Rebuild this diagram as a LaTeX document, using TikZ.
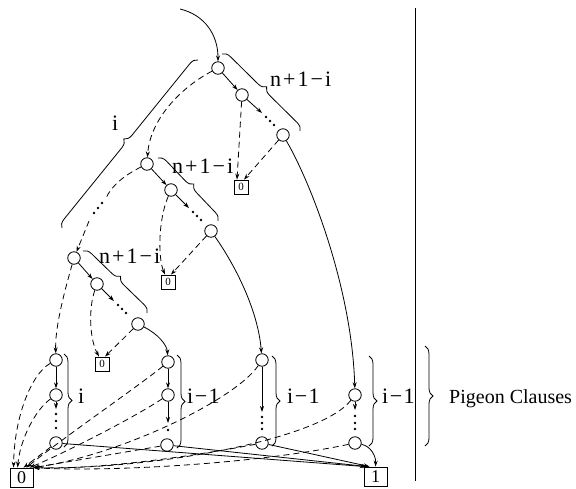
\documentclass[tikz,border=0pt]{standalone}
\usepackage{fontspec}
\setmainfont{Liberation Serif}
\usetikzlibrary{arrows.meta,decorations.pathreplacing}
\newcommand{\nlab}{n\kern2pt+\kern2pt1\kern2pt−\kern2pt i}
\newcommand{\ilab}{i\kern1.5pt−\kern1.5pt1}
\begin{document}
\begin{tikzpicture}[x=1pt,y=-1pt,
  vtx/.style={circle,draw,minimum size=12.5pt,inner sep=0pt,line width=0.8pt},
  sbox/.style={draw,minimum width=14pt,minimum height=14pt,inner sep=0pt,line width=0.8pt,font=\fontsize{11}{11}\selectfont},
  bbox/.style={draw,minimum width=23pt,minimum height=19pt,inner sep=0pt,line width=0.8pt,font=\fontsize{18}{18}\selectfont},
  sol/.style={line width=0.8pt,-{Stealth[length=6pt,width=4pt]}},
  solp/.style={line width=0.8pt},
  das/.style={line width=0.8pt,dash pattern=on 6pt off 4pt,-{Stealth[length=6pt,width=4pt]}},
  dasp/.style={line width=0.8pt,dash pattern=on 6pt off 4pt},
  brc/.style={decorate,decoration={brace,amplitude=8pt},line width=0.8pt},
  lbl/.style={anchor=base west,inner sep=0pt,font=\fontsize{22}{22}\selectfont},
  dt/.style={circle,fill,inner sep=0pt,minimum size=2.8pt},
]
\useasboundingbox (0,0) rectangle (576,488);

% level 1
\coordinate (start) at (180,9);
\node[vtx] (a1) at (218,68) {};
\node[vtx] (a2) at (242,95) {};
\node[vtx] (a3) at (283,135) {};
\coordinate (a2e) at (262,113);
\node[dt] (ad1) at (266,117) {};
\node[dt] (ad2) at (270,121) {};
\node[dt] (ad3) at (274,125) {};
\node[sbox] (z1) at (241,187) {0};

% level 2
\node[vtx] (b1) at (147,164) {};
\node[vtx] (b2) at (171,190) {};
\node[vtx] (b3) at (211,231) {};
\coordinate (b2e) at (189,208);
\node[dt] (bd1) at (193,212) {};
\node[dt] (bd2) at (197,216) {};
\node[dt] (bd3) at (201,220) {};
\node[sbox] (z2) at (168,282) {0};
\coordinate (bl1) at (106,198);
\node[dt] (bld1) at (102,203) {};
\node[dt] (bld2) at (98,208) {};
\node[dt] (bld3) at (94,213) {};
\coordinate (bl2) at (89,221);

% level 3
\node[vtx] (c1) at (74,258) {};
\node[vtx] (c2) at (97,284) {};
\node[vtx] (c3) at (138,324) {};
\coordinate (c2e) at (114,301);
\node[dt] (cd1) at (118,305) {};
\node[dt] (cd2) at (122,309) {};
\node[dt] (cd3) at (126,313) {};
\node[sbox] (z3) at (102,364) {0};

% columns
\node[vtx] (p1a) at (56,360) {};
\node[vtx] (p1b) at (56,395) {};
\coordinate (p1e) at (56,409);
\node[dt] (p1d1) at (56,414) {};
\node[dt] (p1d2) at (56,421) {};
\node[dt] (p1d3) at (56,428) {};
\node[vtx] (p1c) at (56,443) {};

\node[vtx] (p2a) at (168,362) {};
\node[vtx] (p2b) at (168,395) {};
\coordinate (p2e) at (168,423);
\node[dt] (p2d1) at (168,430) {};
\node[vtx] (p2c) at (167,445) {};

\node[vtx] (p3a) at (262,360) {};
\coordinate (p3e) at (262,412);
\node[dt] (p3d1) at (262,417) {};
\node[dt] (p3d2) at (262,423) {};
\node[dt] (p3d3) at (262,429) {};
\node[vtx] (p3c) at (262,443) {};

\node[vtx] (p4a) at (355,395) {};
\coordinate (p4e) at (355,410);
\node[dt] (p4d1) at (355,416) {};
\node[dt] (p4d2) at (355,423) {};
\node[dt] (p4d3) at (355,429) {};
\node[vtx] (p4c) at (355,443) {};

\node[bbox] (box0) at (21.5,477.5) {0};
\node[bbox] (box1) at (375.5,476.5) {1};

% braces and labels
\draw[brc] (62,228) -- (198,60);
\node[lbl] (li) at (112,130) {i};
\draw[brc] (222,54) -- (300,131);
\node[lbl] (l1) at (270,86) {\nlab};
\draw[brc] (158,158) -- (218,221);
\node[lbl] (l2) at (172,173) {\nlab};
\draw[brc] (83,251) -- (147,313);
\node[lbl] (l3) at (99,263) {\nlab};

\draw[brc] (64,354) -- (64,447);
\node[lbl] (lc1) at (78,403) {i};
\draw[brc] (177,355) -- (177,448);
\node[lbl] (lc2) at (187,403) {\ilab};
\draw[brc] (272,356) -- (272,446);
\node[lbl] (lc3) at (287,403) {\ilab};
\draw[brc] (369,356) -- (369,446);
\node[lbl] (lc4) at (382,403) {\ilab};
\draw[brc] (425,346) -- (425,446);
\node[lbl,font=\fontsize{20}{20}\selectfont] (lp) at (449,403) {Pigeon Clauses};

\coordinate (vtop) at (415,8);
\coordinate (vbot) at (415,481);
\draw[solp] (vtop) -- (vbot);

% level 1 edges
\draw[sol] (start) .. controls (205,15) and (218,35) .. (a1);
\draw[sol] (a1) -- (a2);
\draw[sol] (a2) -- (a2e);
\draw[das] (a2) -- ([xshift=-4pt]z1.north);
\draw[das] (a3) -- ([xshift=3pt]z1.north);
\draw[sol] (a3) .. controls (312,185) and (352,290) .. (p4a);
\draw[das] (a1) .. controls (180,88) and (150,120) .. (b1);

% level 2 edges
\draw[sol] (b1) -- (b2);
\draw[sol] (b2) -- (b2e);
\draw[das] (b2) .. controls (158,220) and (158,258) .. ([xshift=-3pt]z2.north);
\draw[das] (b3) -- ([xshift=3pt]z2.north);
\draw[sol] (b3) .. controls (235,265) and (258,310) .. (p3a);
\draw[dasp] (b1) .. controls (125,175) and (112,185) .. (bl1);
\draw[das] (bl2) -- (c1);

% level 3 edges
\draw[sol] (c1) -- (c2);
\draw[sol] (c2) -- (c2e);
\draw[das] (c2) .. controls (88,310) and (90,340) .. ([xshift=-3pt]z3.north);
\draw[das] (c3) -- ([xshift=3pt]z3.north);
\draw[sol] (c3) .. controls (158,334) and (167,345) .. (p2a);
\draw[das] (c1) .. controls (62,300) and (55,330) .. (p1a);

% column edges
\draw[sol] (p1a) -- (p1b);
\draw[das,dash pattern=on 3pt off 2pt] (p1b) -- (p1e);
\draw[sol] (p2a) -- (p2b);
\draw[sol] (p2b) -- (p2e);
\draw[sol] (p3a) -- (p3e);
\draw[das,dash pattern=on 3pt off 2pt] (p4a) -- (p4e);

% to box 0
\draw[das] (p1a) .. controls (30,375) and (14,420) .. ([xshift=4pt]box0.north west);
\draw[das] (p1b) .. controls (35,410) and (20,440) .. ([xshift=8pt]box0.north west);
\draw[das] (p1c) -- ([xshift=2pt]box0.north);
\draw[das] (p2a) .. controls (140,385) and (60,440) .. ([xshift=5pt]box0.north);
\draw[das] (p2b) .. controls (130,420) and (60,455) .. ([xshift=8pt]box0.north);
\draw[das] (p2c) -- (box0.north east);
\draw[das] (p3a) .. controls (235,400) and (120,455) .. (box0.north east);
\draw[das] (p3c) .. controls (200,455) and (100,470) .. (box0.north east);
\draw[das] (p4a) .. controls (320,440) and (150,470) .. (box0.north east);
\draw[das] (p4c) .. controls (250,465) and (100,472) .. (box0.north east);

% to box 1
\draw[sol] (p1c) -- ([xshift=2pt]box1.north west);
\draw[sol] (p2c) -- ([xshift=4pt]box1.north west);
\draw[sol] (p3c) -- ([xshift=6pt]box1.north west);
\draw[sol] (p4c) .. controls (370,446) and (376,455) .. (box1.north);
\end{tikzpicture}
\end{document}
